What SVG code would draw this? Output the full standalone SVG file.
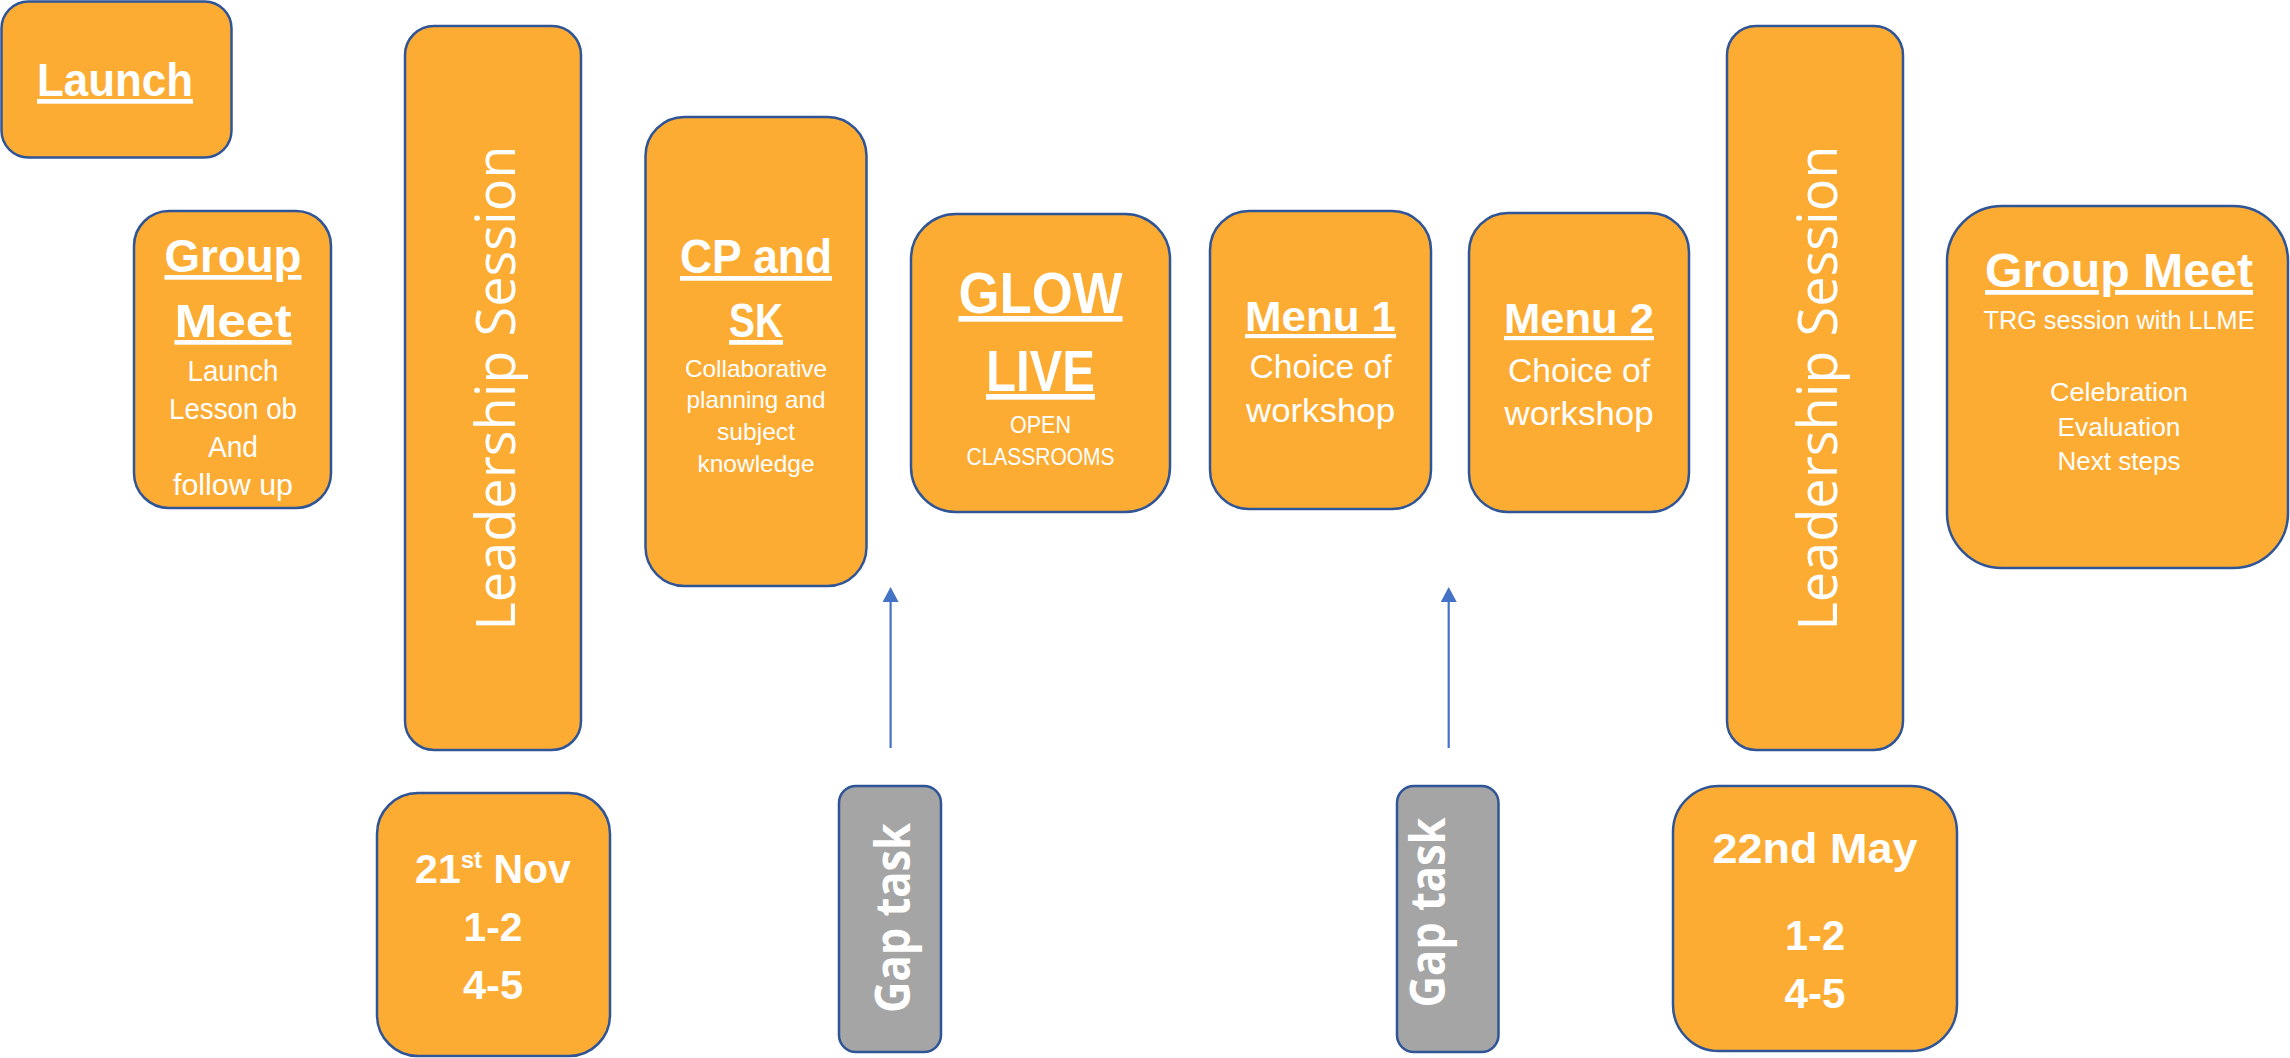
<svg xmlns="http://www.w3.org/2000/svg" width="2290" height="1058" viewBox="0 0 2290 1058">
<style>
.box{fill:#FDAC33;stroke:#2F5597;stroke-width:2.5}
.gap{fill:#A5A5A5;stroke:#2F5597;stroke-width:2.5}
text{fill:#FFFFFF;text-anchor:middle;font-family:"Liberation Sans",Arial,sans-serif}
.h{font-weight:700;text-decoration:underline}
.b{font-weight:700}
.ls{font-family:"Open Sans","Liberation Sans",sans-serif;font-weight:400;font-size:55px}
.gt{font-family:"Open Sans","Liberation Sans",sans-serif;font-weight:700;font-size:48px}
.conn{stroke:#4472C4;stroke-width:2.2;fill:none}
</style>
<defs>
<marker id="ah" markerUnits="userSpaceOnUse" markerWidth="16" markerHeight="16" refX="2" refY="8" orient="auto">
<path d="M0,0 L15,8 L0,16 z" fill="#4472C4"/>
</marker>
</defs>
<rect width="2290" height="1058" fill="#FFFFFF"/>

<g id="launch">
<rect class="box" x="1.5" y="1.5" width="230" height="156" rx="27"/>
<text class="h" x="115" y="96" font-size="47" textLength="156" lengthAdjust="spacingAndGlyphs">Launch</text>
</g>

<g id="group-meet-1">
<rect class="box" x="134" y="211" width="197" height="297" rx="35"/>
<text class="h" x="233" y="272" font-size="47" textLength="137" lengthAdjust="spacingAndGlyphs">Group</text>
<text class="h" x="233" y="337" font-size="47" textLength="117" lengthAdjust="spacingAndGlyphs">Meet</text>
<text x="233" y="381" font-size="29" textLength="91" lengthAdjust="spacingAndGlyphs">Launch</text>
<text x="233" y="419" font-size="29" textLength="128" lengthAdjust="spacingAndGlyphs">Lesson ob</text>
<text x="233" y="457" font-size="29" textLength="50" lengthAdjust="spacingAndGlyphs">And</text>
<text x="233" y="495" font-size="29" textLength="120" lengthAdjust="spacingAndGlyphs">follow up</text>
</g>

<g id="leadership-1">
<rect class="box" x="405" y="26" width="176" height="724" rx="29"/>
<text class="ls" transform="translate(515,388) rotate(-90)" textLength="485" lengthAdjust="spacingAndGlyphs">Leadership Session</text>
</g>

<g id="cp-sk">
<rect class="box" x="645.5" y="117" width="221" height="469" rx="39"/>
<text class="h" x="756" y="273" font-size="47.5" textLength="152" lengthAdjust="spacingAndGlyphs">CP and</text>
<text class="h" x="756" y="337" font-size="47.5" textLength="54" lengthAdjust="spacingAndGlyphs">SK</text>
<text x="756" y="377" font-size="24" textLength="142" lengthAdjust="spacingAndGlyphs">Collaborative</text>
<text x="756" y="408" font-size="24" textLength="139" lengthAdjust="spacingAndGlyphs">planning and</text>
<text x="756" y="440" font-size="24" textLength="78" lengthAdjust="spacingAndGlyphs">subject</text>
<text x="756" y="472" font-size="24" textLength="117" lengthAdjust="spacingAndGlyphs">knowledge</text>
</g>

<g id="glow-live">
<rect class="box" x="911" y="214" width="259" height="298" rx="45"/>
<text class="h" x="1040.5" y="313" font-size="57" textLength="164" lengthAdjust="spacingAndGlyphs">GLOW</text>
<text class="h" x="1040.5" y="391" font-size="57" textLength="109" lengthAdjust="spacingAndGlyphs">LIVE</text>
<text x="1040.5" y="433" font-size="24" textLength="61" lengthAdjust="spacingAndGlyphs">OPEN</text>
<text x="1040.5" y="465" font-size="24" textLength="148" lengthAdjust="spacingAndGlyphs">CLASSROOMS</text>
</g>

<g id="menu-1">
<rect class="box" x="1210" y="211" width="221" height="298" rx="39"/>
<text class="h" x="1320.5" y="331" font-size="42" textLength="151" lengthAdjust="spacingAndGlyphs">Menu 1</text>
<text x="1320.5" y="378" font-size="33" textLength="142" lengthAdjust="spacingAndGlyphs">Choice of</text>
<text x="1320.5" y="422" font-size="33" textLength="149" lengthAdjust="spacingAndGlyphs">workshop</text>
</g>

<g id="menu-2">
<rect class="box" x="1469" y="213" width="220" height="299" rx="39"/>
<text class="h" x="1579" y="333" font-size="42" textLength="150" lengthAdjust="spacingAndGlyphs">Menu 2</text>
<text x="1579" y="382" font-size="33" textLength="142" lengthAdjust="spacingAndGlyphs">Choice of</text>
<text x="1579" y="425" font-size="33" textLength="149" lengthAdjust="spacingAndGlyphs">workshop</text>
</g>

<g id="leadership-2">
<rect class="box" x="1727" y="26" width="176" height="724" rx="29"/>
<text class="ls" transform="translate(1837,388) rotate(-90)" textLength="485" lengthAdjust="spacingAndGlyphs">Leadership Session</text>
</g>

<g id="group-meet-2">
<rect class="box" x="1947" y="206" width="341" height="362" rx="55"/>
<text class="h" x="2119" y="287" font-size="47.5" textLength="268" lengthAdjust="spacingAndGlyphs">Group Meet</text>
<text x="2119" y="329" font-size="26" textLength="271" lengthAdjust="spacingAndGlyphs">TRG session with LLME</text>
<text x="2119" y="401" font-size="26" textLength="138" lengthAdjust="spacingAndGlyphs">Celebration</text>
<text x="2119" y="436" font-size="26" textLength="123" lengthAdjust="spacingAndGlyphs">Evaluation</text>
<text x="2119" y="470" font-size="26" textLength="123" lengthAdjust="spacingAndGlyphs">Next steps</text>
</g>

<g id="date-1">
<rect class="box" x="377" y="793" width="233" height="263" rx="41"/>
<text class="b" x="493" y="883" font-size="41">21<tspan font-size="24" dy="-15">st</tspan><tspan dy="15"> Nov</tspan></text>
<text class="b" x="493" y="941" font-size="41" textLength="59" lengthAdjust="spacingAndGlyphs">1-2</text>
<text class="b" x="493" y="999" font-size="41" textLength="60" lengthAdjust="spacingAndGlyphs">4-5</text>
</g>

<g id="gap-task-1">
<rect class="gap" x="839" y="786" width="102" height="266" rx="17"/>
<text class="gt" transform="translate(910,918) rotate(-90)" textLength="190" lengthAdjust="spacingAndGlyphs">Gap task</text>
</g>

<g id="gap-task-2">
<rect class="gap" x="1397" y="786" width="101.5" height="266" rx="17"/>
<text class="gt" transform="translate(1445,912.5) rotate(-90)" textLength="190" lengthAdjust="spacingAndGlyphs">Gap task</text>
</g>

<g id="date-2">
<rect class="box" x="1673" y="786" width="284" height="265" rx="46"/>
<text class="b" x="1815" y="863" font-size="43" textLength="205" lengthAdjust="spacingAndGlyphs">22nd May</text>
<text class="b" x="1815" y="950" font-size="43" textLength="60" lengthAdjust="spacingAndGlyphs">1-2</text>
<text class="b" x="1815" y="1008" font-size="43" textLength="61" lengthAdjust="spacingAndGlyphs">4-5</text>
</g>

<g id="connectors">
<line class="conn" x1="890.6" y1="748" x2="890.6" y2="600" marker-end="url(#ah)"/>
<line class="conn" x1="1448.7" y1="748" x2="1448.7" y2="600" marker-end="url(#ah)"/>
</g>
</svg>
